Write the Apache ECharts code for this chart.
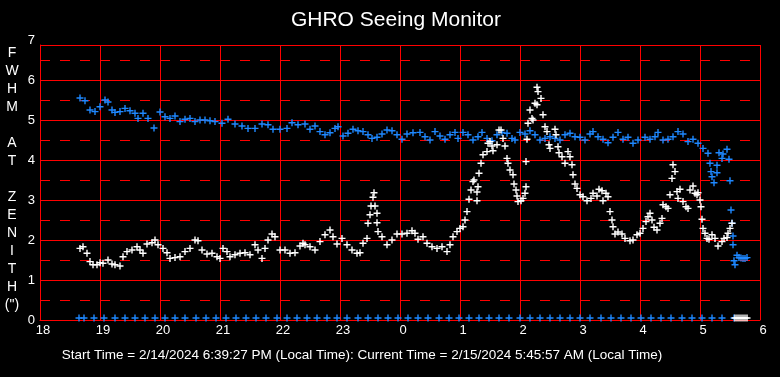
<!DOCTYPE html>
<html lang="en">
<head>
<meta charset="UTF-8">
<title>GHRO Seeing Monitor</title>
<script src="https://cdn.jsdelivr.net/npm/echarts@6/dist/echarts.min.js"></script>
<style>html,body{margin:0;padding:0;background:#000;}</style>
</head>
<body>
<div id="chart" style="width:780px;height:377px;"></div>
<script>
// times are minutes after 18:00 local, values are FWHM at zenith (arcsec)
var blueFwhm = [
  [40,5.55],[45,5.48],[50,5.25],[55,5.21],[60,5.33],[65,5.5],[68,5.45],[72,5.25],[75,5.19],[80,5.21],
  [85,5.29],[90,5.23],[95,5.17],[98,5.04],[103,5.17],[108,5.04],[114,4.8],[120,5.2],[125,5.08],[130,5.04],
  [135,5.1],[140,4.96],[145,5.02],[150,5.04],[155,4.96],[160,5.0],[165,5.0],[170,4.98],[175,4.96],[182,4.92],
  [188,5.02],[195,4.9],[202,4.85],[208,4.79],[215,4.79],[222,4.9],[228,4.88],[233,4.77],[240,4.77],[247,4.79],
  [252,4.93],[258,4.88],[265,4.9],[270,4.77],[275,4.85],[280,4.71],[285,4.63],[290,4.68],[295,4.79],[298,4.83],
  [303,4.6],[308,4.67],[313,4.77],[318,4.73],[323,4.71],[328,4.63],[332,4.54],[337,4.57],[342,4.65],[347,4.75],
  [352,4.73],[357,4.63],[362,4.52],[367,4.65],[373,4.68],[380,4.69],[385,4.58],[390,4.5],[395,4.71],[400,4.6],
  [405,4.52],[410,4.63],[415,4.69],[418,4.54],[423,4.69],[428,4.63],[433,4.5],[438,4.58],[442,4.69],[447,4.54],
  [452,4.48],[457,4.63],[462,4.69],[467,4.67],[472,4.54],[475,4.5],[480,4.69],[485,4.65],[490,4.73],[495,4.63],
  [500,4.5],[505,4.54],[510,4.58],[515,4.54],[520,4.5],[525,4.63],[530,4.67],[535,4.58],[540,4.57],[545,4.5],
  [550,4.65],[553,4.71],[558,4.58],[563,4.52],[568,4.43],[573,4.57],[578,4.69],[583,4.52],[588,4.57],[593,4.42],
  [598,4.5],[605,4.57],[610,4.52],[615,4.58],[618,4.69],[623,4.5],[628,4.52],[633,4.58],[638,4.71],[643,4.65],
  [648,4.46],[653,4.52],[658,4.42],[663,4.29],[668,4.17],[670,3.92],[671,3.71],[672,3.58],[674,3.43],[677,3.68],
  [677,3.87],[679,4.18],[682,4.04],[683,4.15],[687,4.27],[689,4.02],[690,3.48],[691,2.75],[692,2.42],[693,1.88],
  [693,2.1],[694,1.48],[695,1.38],[697,1.62],[699,1.56],[701,1.55],[703,1.54],[705,1.54],[707,1.56]
];

var whiteFwhm = [
  [40,1.79],[43,1.83],[47,1.67],[50,1.46],[53,1.38],[57,1.38],[60,1.43],[63,1.42],[68,1.5],[72,1.4],
  [75,1.38],[80,1.35],[83,1.58],[87,1.71],[92,1.75],[97,1.83],[100,1.75],[103,1.67],[107,1.9],[112,1.93],
  [115,2.0],[118,1.88],[123,1.79],[127,1.68],[130,1.54],[135,1.56],[140,1.58],[145,1.71],[150,1.79],[155,2.0],
  [158,1.98],[162,1.75],[167,1.65],[172,1.67],[177,1.58],[180,1.54],[183,1.79],[187,1.71],[190,1.58],[195,1.63],
  [200,1.67],[205,1.68],[210,1.63],[215,1.88],[218,1.75],[222,1.54],[225,1.79],[228,2.0],[232,2.15],[235,2.08],
  [240,1.75],[245,1.75],[250,1.67],[255,1.68],[260,1.85],[263,1.92],[265,1.88],[270,1.83],[275,1.75],[280,1.96],
  [285,2.13],[290,2.25],[293,2.08],[297,1.9],[302,2.04],[307,1.88],[312,1.75],[317,1.67],[320,1.68],[323,1.92],
  [327,2.04],[328,2.42],[330,2.63],[331,2.85],[333,3.07],[334,3.18],[335,2.85],[337,2.67],[337,2.43],[338,2.21],
  [342,2.08],[347,1.88],[352,2.0],[357,2.15],[362,2.15],[367,2.17],[372,2.23],[375,2.17],[378,2.02],[383,2.08],
  [387,1.92],[392,1.83],[397,1.79],[402,1.83],[407,1.71],[410,1.88],[413,2.08],[417,2.21],[420,2.29],[423,2.33],
  [425,2.5],[427,2.71],[429,3.02],[431,3.25],[433,3.46],[434,3.5],[437,3.2],[437,2.98],[438,3.33],[439,3.67],
  [441,3.92],[443,4.13],[447,4.21],[448,4.42],[450,4.46],[452,4.35],[453,4.23],[457,4.38],[459,4.75],[461,4.75],
  [463,4.54],[465,4.35],[467,4.04],[468,3.92],[470,3.75],[473,3.63],[474,3.4],[476,3.25],[477,3.1],[478,2.96],
  [481,2.98],[483,3.04],[485,3.17],[486,3.33],[486,3.96],[487,4.52],[488,4.92],[490,5.25],[492,5.04],[493,5.0],
  [495,5.42],[497,5.38],[497,5.82],[498,5.71],[501,5.54],[503,5.13],[505,4.83],[507,4.71],[509,4.38],[510,4.29],
  [515,4.77],[516,4.63],[518,4.33],[519,4.18],[522,4.08],[525,3.92],[528,4.21],[530,4.08],[532,3.88],[533,3.63],
  [535,3.4],[537,3.29],[540,3.13],[543,3.08],[547,2.98],[551,3.04],[553,3.17],[557,3.1],[559,3.27],[562,3.23],
  [563,2.98],[566,3.17],[568,3.08],[570,2.71],[572,2.5],[573,2.33],[575,2.15],[578,2.2],[582,2.15],[585,2.04],
  [590,1.98],[593,2.0],[597,2.13],[600,2.17],[603,2.29],[606,2.46],[608,2.58],[610,2.67],[612,2.5],[614,2.32],
  [617,2.25],[620,2.42],[622,2.54],[623,2.88],[626,2.83],[628,2.79],[630,3.13],[632,3.54],[633,3.88],[635,3.71],
  [637,3.21],[638,3.04],[640,3.27],[643,2.96],[646,2.83],[648,2.79],[650,3.25],[653,3.35],[655,3.17],[657,3.13],
  [658,3.18],[660,3.0],[661,2.83],[662,2.52],[663,2.29],[665,2.17],[667,2.04],[669,2.02],[672,2.13],[675,2.04],
  [678,1.85],[682,1.96],[684,2.04],[687,2.06],[688,2.17],[690,2.29],[692,2.42]
];

// points sitting on the floor of the plot
var blueFloorTimes = [39,44,54,64,75,85,95,105,115,125,135,145,156,166,176,186,196,206,216,226,237,247,257,267,
  277,287,297,307,318,328,338,348,358,368,378,388,399,409,419,429,439,449,459,469,480,490,500,510,520,530,540,
  550,561,571,581,591,601,611,621,631,642,652,662,672,682,694];
var whiteFloorTimes = [695,697,699,701,703,705,707];
var floorValue = 0.05;

var yLabelText = ['F','W','H','M','','A','T','','Z','E','N','I','T','H','(")'];
var startText = 'Start Time = 2/14/2024 6:39:27 PM (Local Time): Current Time = 2/15/2024 5:45:57 AM (Local Time)';

var RED = '#ff0000';
var BLUE = '#1e88ff';
var FONT = '"Liberation Sans", Arial, sans-serif';
var cross = 'path://M0,2.8H7V4.2H0Z M2.8,0H4.2V7H2.8Z';

function floorPts(times) {
  return times.map(function (t) { return [t, floorValue]; });
}

var chart = echarts.init(document.getElementById('chart'));

var option = {
  backgroundColor: '#000',
  animation: false,
  graphic: [
    {
      type: 'text', x: 396, y: 20,
      style: { text: 'GHRO Seeing Monitor', fill: '#fff', font: '21px ' + FONT, align: 'center', verticalAlign: 'middle' }
    },
    {
      type: 'text', x: 12, y: 179,
      style: { text: yLabelText.join('\n'), fill: '#fff', font: '14px ' + FONT, lineHeight: 18, align: 'center', verticalAlign: 'middle' }
    },
    {
      type: 'text', x: 362, y: 355,
      style: { text: startText, fill: '#fff', font: '13.5px ' + FONT, align: 'center', verticalAlign: 'middle' }
    }
  ],
  grid: [
    { left: 40, right: 20, top: 45, bottom: 57, show: false, outerBoundsMode: 'none' },
    { left: 40, right: 20, top: 40, bottom: 57, show: false, outerBoundsMode: 'none' }
  ],
  xAxis: [
    {
      type: 'value', gridIndex: 0, min: 0, max: 720, interval: 60,
      axisLine: { show: true, lineStyle: { color: RED, width: 1 } },
      axisTick: { show: false },
      splitLine: { show: true, lineStyle: { color: RED, width: 1 } },
      axisLabel: {
        color: '#fff', fontSize: 13, fontFamily: FONT, margin: 4, padding: [0, 0, 0, 6],
        formatter: function (v) { return String((18 + v / 60) % 24); }
      }
    },
    { type: 'value', gridIndex: 1, min: 0, max: 720, show: false }
  ],
  yAxis: [
    {
      // solid lines at whole units, top frame at 6.875
      type: 'value', gridIndex: 0, min: 0, max: 6.875, interval: 1,
      axisLine: { show: true, lineStyle: { color: RED } },
      axisTick: { show: false },
      axisLabel: { show: false },
      splitLine: { show: true, lineStyle: { color: RED, width: 1 } },
      z: 3
    },
    {
      // dashed half-unit lines underneath
      type: 'value', gridIndex: 0, min: 0, max: 6.875, interval: 0.5,
      axisLine: { show: false }, axisTick: { show: false }, axisLabel: { show: false },
      splitLine: { show: true, lineStyle: { color: RED, width: 1, type: [10, 10] } },
      z: 1
    },
    {
      type: 'value', gridIndex: 1, min: 0, max: 7, interval: 1,
      axisLine: { show: false }, axisTick: { show: false }, splitLine: { show: false },
      axisLabel: { color: '#fff', fontSize: 13, fontFamily: FONT, margin: 5 }
    }
  ],
  series: [
    {
      name: 'blue', type: 'scatter', xAxisIndex: 0, yAxisIndex: 0,
      symbol: cross, symbolSize: 7, itemStyle: { color: BLUE, opacity: 1 },
      data: blueFwhm, z: 5
    },
    {
      name: 'white', type: 'scatter', xAxisIndex: 0, yAxisIndex: 0,
      symbol: cross, symbolSize: 7, itemStyle: { color: '#fff', opacity: 1 },
      data: whiteFwhm, z: 6
    },
    {
      name: 'blueFloor', type: 'scatter', xAxisIndex: 0, yAxisIndex: 0,
      symbol: cross, symbolSize: 7, itemStyle: { color: BLUE, opacity: 1 },
      data: floorPts(blueFloorTimes), z: 5
    },
    {
      name: 'whiteFloor', type: 'scatter', xAxisIndex: 0, yAxisIndex: 0,
      symbol: cross, symbolSize: 7, itemStyle: { color: '#fff', opacity: 1 },
      data: floorPts(whiteFloorTimes), z: 6
    }
  ]
};

chart.setOption(option);
</script>
</body>
</html>
